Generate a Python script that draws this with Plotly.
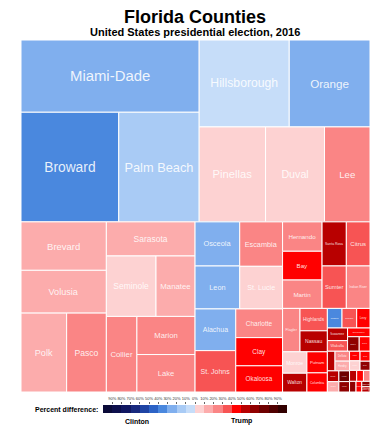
import numpy as np
import plotly.graph_objects as go

# ---- data ----
counties = ["Alachua", "Baker", "Bay", "Bradford", "Brevard", "Broward", "Calhoun", "Charlotte",
            "Citrus", "Clay", "Collier", "Columbia", "DeSoto", "Dixie", "Duval", "Escambia",
            "Flagler", "Franklin", "Gadsden", "Gilchrist", "Glades", "Gulf", "Hamilton", "Hardee",
            "Hendry", "Hernando", "Highlands", "Hillsborough", "Holmes", "Indian River", "Jackson",
            "Jefferson", "Lafayette", "Lake", "Lee", "Leon", "Levy", "Liberty", "Madison", "Manatee",
            "Marion", "Martin", "Miami-Dade", "Monroe", "Nassau", "Okaloosa", "Okeechobee", "Orange",
            "Osceola", "Palm Beach", "Pasco", "Pinellas", "Polk", "Putnam", "St. Johns", "St. Lucie",
            "Santa Rosa", "Sarasota", "Seminole", "Sumter", "Suwannee", "Taylor", "Union", "Volusia",
            "Wakulla", "Walton", "Washington"]
total_votes = [130000, 13000, 87000, 12000, 317000, 821000, 6000, 103000,
               80000, 101000, 177000, 30000, 11000, 7000, 429000, 146000,
               58000, 5700, 22000, 8500, 4700, 7600, 5500, 7700,
               10800, 89000, 47000, 600000, 8800, 77000, 22000,
               7700, 3400, 167000, 331000, 147000, 20000, 3300, 9100, 181000,
               170000, 86000, 987000, 40000, 44000, 94000, 15000, 538000,
               151000, 676000, 240000, 483000, 276000, 33000, 129000, 140000,
               82000, 232000, 230000, 79000, 19500, 9500, 5300, 280000,
               16500, 35000, 11500]
# percent difference: positive = Trump lead, negative = Clinton lead
pct_diff = [-22.2, 66.7, 46.0, 49.1, 19.7, -35.0, 57.9, 28.0,
            39.6, 43.6, 25.0, 43.9, 27.2, 63.0, 1.4, 20.6,
            20.1, 40.4, -37.8, 63.8, 41.6, 48.0, 27.0, 42.0,
            15.0, 29.0, 32.0, -6.8, 79.0, 24.6, 37.0,
            8.0, 66.0, 24.5, 20.5, -25.5, 44.0, 58.0, 16.0, 16.7,
            26.3, 26.4, -29.4, 7.4, 50.7, 46.9, 46.0, -25.0,
            -25.0, -15.6, 21.8, 1.1, 14.0, 41.4, 32.9, 5.4,
            52.9, 11.4, 1.4, 39.2, 55.0, 53.0, 60.0, 13.0,
            39.8, 54.0, 58.0]

legend_centers = list(range(-95, 100, 10))
legend_ticks = list(range(-90, 91, 10))
legend_ticktext = [f"{abs(t)}%" for t in legend_ticks]

bin_colors = ["#0a0a38", "#0d0f4c", "#111862", "#18297e", "#1f44a4", "#2c63c6",
              "#4a88de", "#80afee", "#a9cbf5", "#c6ddf9",
              "#fdd2d2", "#fcacac", "#fa8585", "#f75454", "#ff0000",
              "#b80000", "#900000", "#6e0000", "#500000", "#320000"]

colorscale = []
for i, c in enumerate(bin_colors):
    colorscale.append([i / 20, c])
    colorscale.append([(i + 1) / 20, c])

# label size grows with box area (derived from the values)
label_sizes = [round(2.5 + (v ** 0.5) / 80, 1) for v in total_votes]

fig = go.Figure()
fig.add_trace(go.Treemap(
    labels=counties,
    parents=[""] * len(counties),
    values=total_votes,
    sort=True,
    textinfo="label",
    textposition="middle center",
    textfont=dict(family="Liberation Sans, Arial", color="rgba(255,255,255,0.88)", size=label_sizes),
    marker=dict(colors=pct_diff, colorscale=colorscale, cmin=-100, cmax=100, showscale=False,
                line=dict(color="white", width=1), pad=dict(t=0, l=0, r=0, b=0)),
    root=dict(color="white"),
    tiling=dict(packing="binary", pad=0),
    pathbar=dict(visible=False),
    domain=dict(x=[21 / 390, 370 / 390], y=[(430 - 392) / 430, (430 - 40) / 430]),
    hoverinfo="label+value",
))

fig.add_trace(go.Heatmap(
    x=legend_centers, y=[0], z=[legend_centers],
    colorscale=colorscale, zmin=-100, zmax=100, showscale=False,
    xaxis="x", yaxis="y", hoverinfo="skip",
))

fig.update_layout(
    width=390, height=430,
    margin=dict(l=0, r=0, t=0, b=0),
    paper_bgcolor="white", plot_bgcolor="white",
    font=dict(family="Liberation Sans, Arial", color="black"),
    xaxis=dict(domain=[103 / 390, 287 / 390], range=[-100, 100], side="top",
               tickvals=legend_ticks, ticktext=legend_ticktext, tickangle=0,
               tickfont=dict(size=4, color="#333"),
               ticks="outside", ticklen=2, tickcolor="#666", showgrid=False, zeroline=False,
               showline=False, fixedrange=True),
    yaxis=dict(domain=[(430 - 413) / 430, (430 - 405) / 430], visible=False, fixedrange=True),
)

def ann(text, x, y, size, xanchor="center"):
    fig.add_annotation(text=text, x=x / 390, y=1 - y / 430, xref="paper", yref="paper",
                       showarrow=False, xanchor=xanchor, yanchor="middle",
                       font=dict(size=size, color="black"))

ann("<b>Florida Counties</b>", 195, 17, 18)
ann("<b>United States presidential election, 2016</b>", 195, 32, 11)
ann("<b>Percent difference:</b>", 100, 409, 7, "right")
ann("<b>Clinton</b>", 137, 421, 7)
ann("<b>Trump</b>", 241, 421, 7)

fig.write_html("out.html", config={"displayModeBar": False},
               post_script="document.body.style.margin='0';")
